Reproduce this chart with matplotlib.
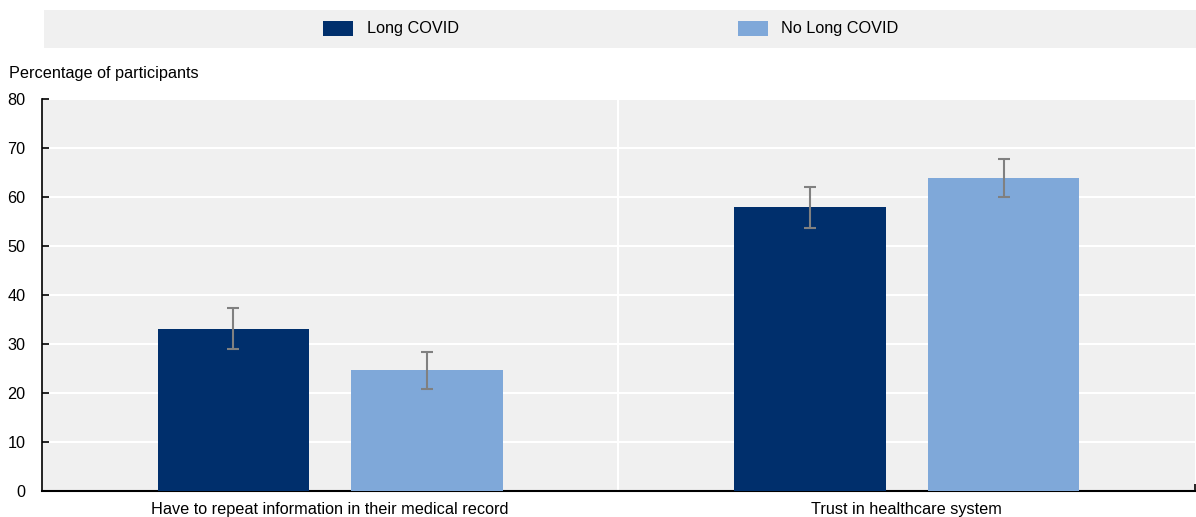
import numpy as np
import matplotlib
matplotlib.use("Agg")
import matplotlib.pyplot as plt
from matplotlib.patches import Rectangle

plt.rcParams['font.family'] = ['Liberation Sans', 'DejaVu Sans']
FS = 11.7

categories = ["Have to repeat information in their medical record", "Trust in healthcare system"]
series_names = ["Long COVID", "No Long COVID"]
long_covid = [33.1, 57.9]
long_covid_err = [4.2, 4.2]
no_long_covid = [24.6, 63.9]
no_long_covid_err = [3.8, 3.8]

dark = "#002f6c"
light = "#7fa8d9"
bg = "#f0f0f0"

fig = plt.figure(figsize=(11.96, 5.17), dpi=100)
ax = fig.add_axes([0.0351, 0.0503, 0.964, 0.7582])
ax.set_facecolor(bg)

x = np.arange(len(categories))
w = 0.263
off = 0.168
err_kw = dict(ecolor="#808080", elinewidth=1.5, capsize=4.5, capthick=1.5)
ax.bar(x - off, long_covid, w, color=dark, yerr=long_covid_err, error_kw=err_kw, zorder=3)
ax.bar(x + off, no_long_covid, w, color=light, yerr=no_long_covid_err, error_kw=err_kw, zorder=3)

ax.set_xlim(-0.5, 1.5)
ax.set_ylim(0, 80)
ax.set_yticks(range(0, 81, 10))
ax.yaxis.grid(True, color="white", linewidth=1.5, zorder=0)
ax.axvline(0.5, color="white", linewidth=1.5, zorder=1)
ax.set_axisbelow(True)

ax.set_xticks(x)
ax.set_xticklabels(categories, fontsize=FS)
ax.tick_params(axis="x", length=0, pad=8)
ax.set_xticks([0.5, 1.5], minor=True)
ax.tick_params(axis="x", which="minor", direction="in", length=5, width=1.2, color="black")
ax.tick_params(axis="y", direction="in", length=5, width=1.2, labelsize=FS, pad=12)

for side in ["top", "right"]:
    ax.spines[side].set_visible(False)
ax.spines["left"].set_linewidth(1.2)
ax.spines["bottom"].set_linewidth(1.5)

fig.text(0.0075, 0.857, "Percentage of participants", fontsize=FS, va="center", ha="left")

# legend strip across the top
fig.patches.append(Rectangle((0.0368, 0.9072), 0.9632, 0.0735, transform=fig.transFigure,
                             facecolor=bg, edgecolor="none"))
for sx, tx, col, name in [(0.270, 0.3069, dark, series_names[0]), (0.617, 0.653, light, series_names[1])]:
    fig.patches.append(Rectangle((sx, 0.9304), 0.0251, 0.029, transform=fig.transFigure,
                                 facecolor=col, edgecolor="none"))
    fig.text(tx, 0.9449, name, fontsize=FS, va="center", ha="left")

fig.savefig("out.png", dpi=100, facecolor="white")
